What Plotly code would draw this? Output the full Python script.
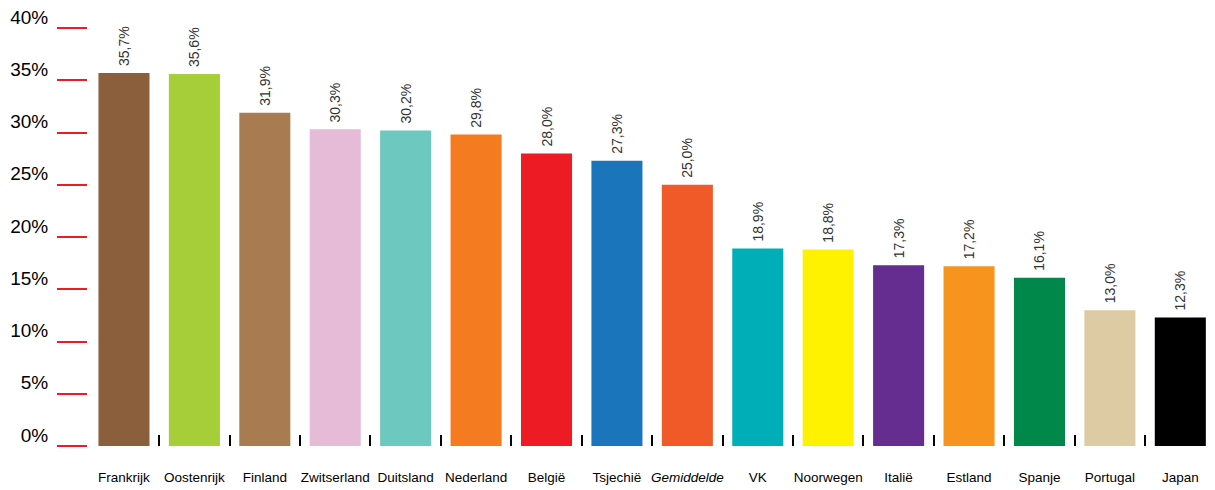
import plotly.graph_objects as go

categories = ["Frankrijk", "Oostenrijk", "Finland", "Zwitserland", "Duitsland", "Nederland",
              "België", "Tsjechië", "Gemiddelde", "VK", "Noorwegen", "Italië", "Estland",
              "Spanje", "Portugal", "Japan"]
tick_labels = ["Frankrijk", "Oostenrijk", "Finland", "Zwitserland", "Duitsland", "Nederland",
               "België", "Tsjechië", "<i>Gemiddelde</i>", "VK", "Noorwegen", "Italië", "Estland",
               "Spanje", "Portugal", "Japan"]
values = [35.7, 35.6, 31.9, 30.3, 30.2, 29.8, 28.0, 27.3, 25.0, 18.9, 18.8, 17.3, 17.2, 16.1, 13.0, 12.3]
colors = ["#8B5E3C", "#A6CE39", "#A87C50", "#E6BBD8", "#6DC8BF", "#F47B20", "#ED1C24", "#1B75BB",
          "#F05A28", "#00AEB8", "#FFF200", "#662D91", "#F7941D", "#00874A", "#DDCBA4", "#000000"]
y_ticks = [0, 5, 10, 15, 20, 25, 30, 35, 40]
y_tick_text = [f"{v}%" for v in y_ticks]

fig = go.Figure(go.Bar(
    x=categories, y=values, marker=dict(color=colors, line=dict(width=0)),
    texttemplate="\u00a0%{y:.1f}%", textposition="outside", textangle=-90,
    textfont=dict(family="Liberation Sans, Arial", size=14, color="#333"),
    constraintext="none", cliponaxis=False, hoverinfo="skip",
))

fig.update_layout(
    width=1207, height=482,
    margin=dict(l=79, r=3, t=20, b=44, autoexpand=False),
    plot_bgcolor="white", paper_bgcolor="white",
    separators=",.",
    bargap=0.275,
    showlegend=False,
    xaxis=dict(
        domain=[0.0047, 1], range=[-0.45, 15.45], automargin=False,
        tickmode="array", tickvals=categories, ticktext=tick_labels, tickangle=0,
        tickson="boundaries", ticks="inside", ticklen=11, tickwidth=1.5, tickcolor="#000",
        showline=False, showgrid=False, zeroline=False,
        tickfont=dict(family="Liberation Sans, Arial", size=13.5, color="#000"),
        ticklabelstandoff=21,
    ),
    yaxis=dict(
        anchor="free", position=0, range=[0, 40], automargin=False,
        tickmode="array", tickvals=y_ticks, ticktext=y_tick_text,
        ticks="outside", ticklen=30, tickwidth=1.5, tickcolor="#ED1C24",
        showline=False, showgrid=False, zeroline=False,
        tickfont=dict(family="Liberation Sans, Arial", size=19, color="#000"),
        ticklabelshift=-11, ticklabelstandoff=5, ticklabeloverflow="allow",
    ),
)

fig.write_html("out.html")
